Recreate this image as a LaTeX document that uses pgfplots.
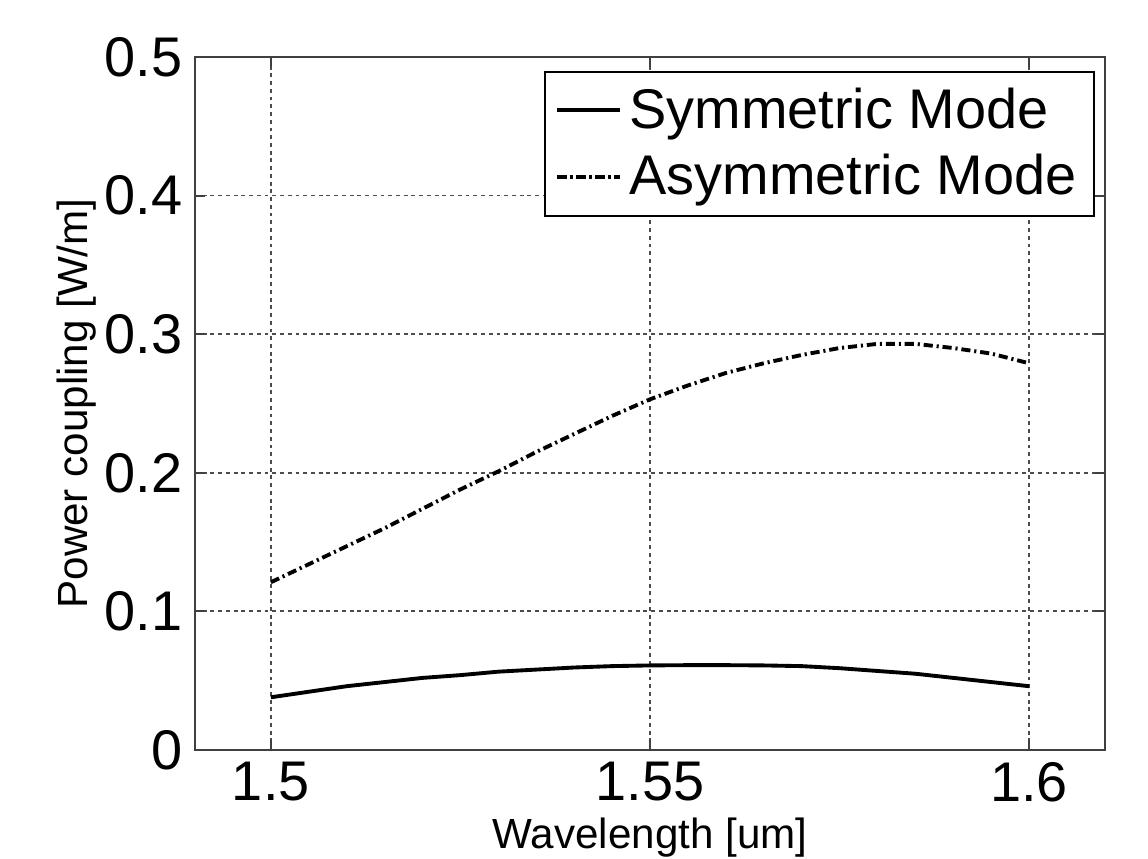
\documentclass[border=0pt]{standalone}
\usepackage{fontspec}
\setmainfont{Liberation Sans}
\usepackage{pgfplots}
\pgfplotsset{compat=1.18}
\usetikzlibrary{calc}
\definecolor{axgray}{gray}{0.25}
\definecolor{gridgray}{gray}{0.3}

\begin{document}
\begin{tikzpicture}
\begin{axis}[
  scale only axis, width=9.10cm, height=6.93cm,
  xmin=1.49, xmax=1.61, ymin=0, ymax=0.5,
  xtick={1.5,1.55,1.6}, ytick={0,0.1,...,0.5},
  xticklabels={1.5,1.55,1.6},
  yticklabels={0,0.1,0.2,0.3,0.4,0.5},
  /pgf/number format/assume math mode=true,
  tick label style={font=\fontsize{15.9}{19}\selectfont, black},
  label style={font=\fontsize{12}{14}\selectfont, black},
  xlabel={Wavelength [um]}, ylabel={Power coupling [W/m]},
  xlabel style={yshift=0.08cm},
  ylabel style={yshift=-0.15cm},
  axis line style={axgray, line width=0.6pt},
  tick style={axgray, line width=0.6pt},
  tick align=inside, major tick length=0.1cm,
  grid=major,
  grid style={gridgray, line width=0.5pt, dash pattern=on 1.1pt off 1.1pt},
  legend cell align=left,
  legend style={at={(0.989,0.98)}, anchor=north east, draw=black, line width=0.5pt,
    font=\fontsize{15.9}{19}\selectfont, inner xsep=3pt, inner ysep=2.5pt,
    row sep=2pt},
  legend image code/.code={\draw[#1] (0cm,0cm) -- (0.63cm,0cm);},
]
\coordinate (bl) at (rel axis cs:0,0);
\coordinate (tr) at (rel axis cs:1,1);
\addplot[black, line width=1.1pt] coordinates {
(1.500,0.038) (1.505,0.042) (1.510,0.046) (1.515,0.049) (1.520,0.052)
(1.525,0.054) (1.530,0.0565) (1.535,0.058) (1.540,0.0595) (1.545,0.0605)
(1.550,0.061) (1.555,0.0612) (1.560,0.0612) (1.565,0.061) (1.570,0.0605)
(1.575,0.059) (1.580,0.057) (1.585,0.055) (1.590,0.052) (1.595,0.049)
(1.600,0.046)};
\addplot[black, line width=1.1pt, dash pattern=on 2.6pt off 1.1pt on 0.6pt off 1.1pt] coordinates {
(1.500,0.121) (1.505,0.134) (1.510,0.147) (1.515,0.160) (1.520,0.174)
(1.525,0.188) (1.530,0.201) (1.535,0.215) (1.540,0.228) (1.545,0.241)
(1.550,0.253) (1.555,0.263) (1.560,0.272) (1.565,0.279) (1.570,0.285)
(1.575,0.290) (1.580,0.293) (1.585,0.293) (1.590,0.290) (1.595,0.286)
(1.600,0.279)};
\legend{Symmetric Mode, Asymmetric Mode}
\end{axis}
\pgfresetboundingbox
\path[use as bounding box] ($(bl)+(-1.95,-1.09)$) rectangle ($(tr)+(0.43,0.57)$);
\end{tikzpicture}
\end{document}
